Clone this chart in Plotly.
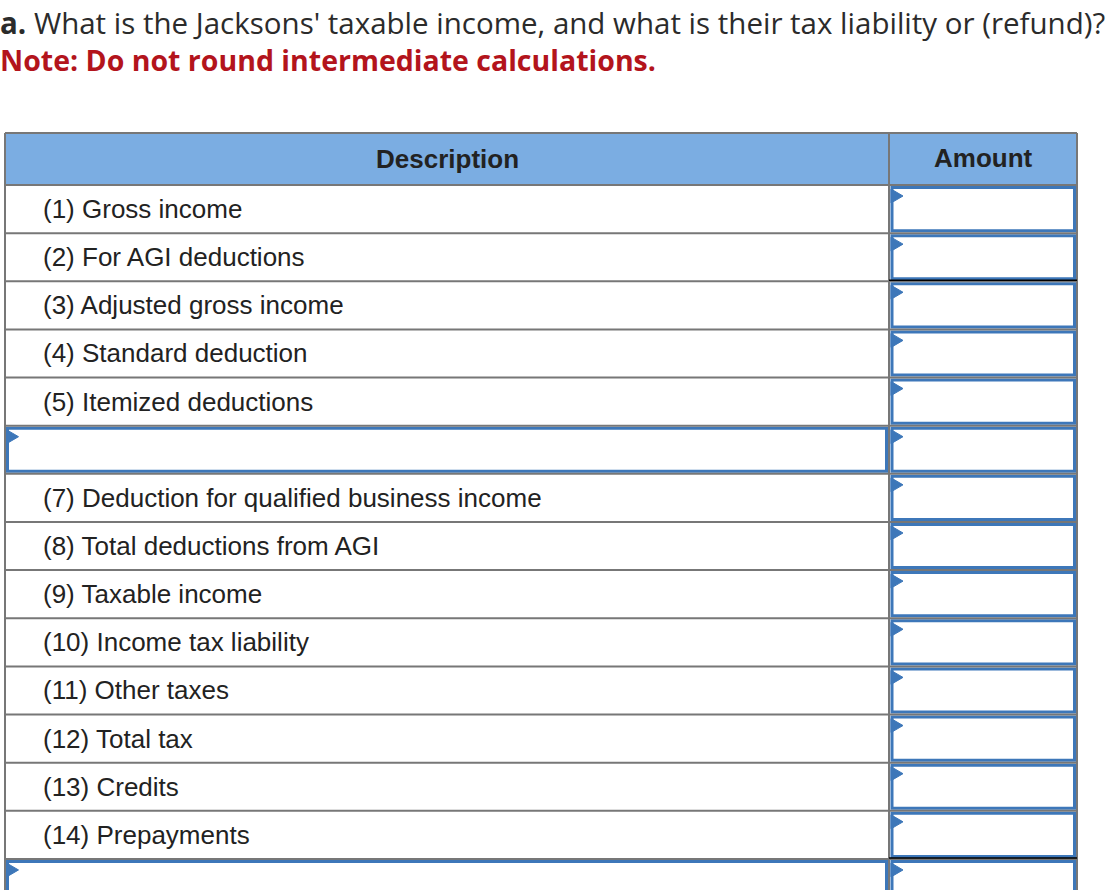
import plotly.graph_objects as go

# ---------------- data ----------------
title_bold = "a."
title_text = " What is the Jacksons' taxable income, and what is their tax liability or (refund)?"
note_text = "Note: Do not round intermediate calculations."
header_labels = ["Description", "Amount"]
row_labels = [
    "(1) Gross income",
    "(2) For AGI deductions",
    "(3) Adjusted gross income",
    "(4) Standard deduction",
    "(5) Itemized deductions",
    "",
    "(7) Deduction for qualified business income",
    "(8) Total deductions from AGI",
    "(9) Taxable income",
    "(10) Income tax liability",
    "(11) Other taxes",
    "(12) Total tax",
    "(13) Credits",
    "(14) Prepayments",
    "",
]
desc_is_input = [False, False, False, False, False, True, False, False,
                 False, False, False, False, False, False, True]
bold_rule_after = [1, 13]   # rows followed by a black rule in the amount column

# ---------------- styling / geometry ----------------
W, H = 1116, 890
X_L, X_MID, X_R = 5, 889, 1077
HEAD_TOP, HEAD_BOT = 133, 185
ROW_H = 48.14
GRAY = "#777777"
HEAD_FILL = "#7badE2"
BLUE = "#3d77b9"
TEXT = "#222222"
RED = "#b3141c"
TABLE_FONT = "Liberation Sans, Arial"
TABLE_SIZE = 26
TITLE_FONT = "Open Sans, Lato"

fig = go.Figure()
shapes = []
annotations = []


def row_top(i):
    return HEAD_BOT + i * ROW_H


# header
shapes.append(dict(type="rect", x0=X_L, x1=X_R, y0=HEAD_TOP, y1=HEAD_BOT,
                   fillcolor=HEAD_FILL, line=dict(width=0), layer="below"))
annotations.append(dict(x=(X_L + X_MID) / 2, y=(HEAD_TOP + HEAD_BOT) / 2,
                        text="<b>%s</b>" % header_labels[0], showarrow=False,
                        xanchor="center", yanchor="middle",
                        font=dict(family=TABLE_FONT, size=TABLE_SIZE, color=TEXT)))
annotations.append(dict(x=(X_MID + X_R) / 2, y=(HEAD_TOP + HEAD_BOT) / 2 - 1,
                        text="<b>%s</b>" % header_labels[1], showarrow=False,
                        xanchor="center", yanchor="middle",
                        font=dict(family=TABLE_FONT, size=TABLE_SIZE, color=TEXT)))

n = len(row_labels)
bottom = row_top(n)


def triangle(x, y):
    return dict(type="path",
                path="M %f %f L %f %f L %f %f Z" % (x, y, x, y + 14, x + 12, y + 7),
                fillcolor=BLUE, line=dict(color=BLUE, width=1))


for i, lab in enumerate(row_labels):
    t = row_top(i)
    b = row_top(i + 1)
    # amount input box
    shapes.append(dict(type="rect", x0=892, x1=1074.5, y0=t + 2.5, y1=b - 2.5,
                       line=dict(color=BLUE, width=3), fillcolor="white"))
    shapes.append(triangle(891, t + 4))
    if desc_is_input[i]:
        shapes.append(dict(type="rect", x0=7.5, x1=886.5, y0=t + 2.5, y1=b - 2.5,
                           line=dict(color=BLUE, width=3), fillcolor="white"))
        shapes.append(triangle(6.5, t + 4))
    if lab:
        annotations.append(dict(x=41, y=(t + b) / 2, text=lab, showarrow=False,
                                xanchor="left", yanchor="middle",
                                font=dict(family=TABLE_FONT, size=TABLE_SIZE,
                                          color=TEXT)))

# grid lines (gray)
shapes.append(dict(type="line", x0=X_L, x1=X_R, y0=HEAD_TOP, y1=HEAD_TOP,
                   line=dict(color=GRAY, width=2)))
for i in range(n):
    y = row_top(i)
    shapes.append(dict(type="line", x0=X_L, x1=X_R, y0=y, y1=y,
                       line=dict(color=GRAY, width=2)))
for x in (X_L, X_MID, X_R):
    shapes.append(dict(type="line", x0=x, x1=x, y0=HEAD_TOP, y1=bottom,
                       line=dict(color=GRAY, width=2)))

# black rules in amount column
for i in bold_rule_after:
    y = row_top(i + 1) - 1
    shapes.append(dict(type="line", x0=X_MID, x1=X_R, y0=y, y1=y,
                       line=dict(color="black", width=1.6)))

# title (paper coordinates so it is never clipped)
annotations.append(dict(xref="paper", yref="paper", x=0, y=1 - 23 / H, xshift=-2,
                        text="<b>%s</b>%s" % (title_bold, title_text),
                        showarrow=False, xanchor="left", yanchor="middle",
                        font=dict(family=TITLE_FONT, size=29.5, color="#2b2b2b")))
annotations.append(dict(xref="paper", yref="paper", x=0, y=1 - 60 / H, xshift=-2,
                        text="<b>%s</b>" % note_text,
                        showarrow=False, xanchor="left", yanchor="middle",
                        font=dict(family=TITLE_FONT, size=28.5, color=RED)))

fig.update_layout(
    width=W, height=H,
    margin=dict(l=0, r=0, t=0, b=0),
    paper_bgcolor="white", plot_bgcolor="white",
    xaxis=dict(range=[0, W], visible=False, fixedrange=True),
    yaxis=dict(range=[H, 0], visible=False, fixedrange=True),
    shapes=shapes, annotations=annotations, showlegend=False,
)

fig.write_html("out.html", config={"displayModeBar": False},
               post_script="document.body.style.margin='0';")
